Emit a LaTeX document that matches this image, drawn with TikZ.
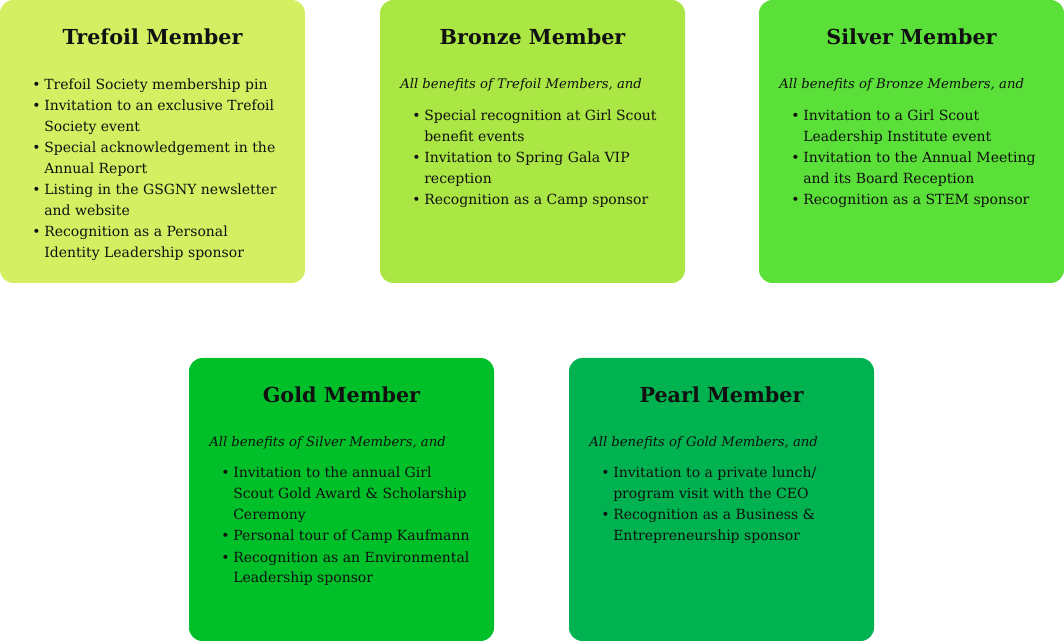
\documentclass[tikz,border=0pt]{standalone}
\usepackage{fontspec}
\setmainfont{DejaVu Serif}
\definecolor{trefoilgreen}{RGB}{212,240,98}
\definecolor{bronzegreen}{RGB}{170,230,68}
\definecolor{silvergreen}{RGB}{90,224,56}
\definecolor{goldgreen}{RGB}{0,192,42}
\definecolor{pearlgreen}{RGB}{0,178,80}
\definecolor{perkink}{RGB}{17,17,17}
\newcommand{\perkrows}[1]{\begin{tabular}[t]{@{}p{9pt}@{}l@{}}#1\end{tabular}}
\tikzset{
  tiercard/.style={rounded corners=10pt},
  tiertitle/.style={font=\fontsize{15.5}{18}\selectfont\bfseries, perkink, anchor=base, inner sep=0pt},
  tierintro/.style={font=\fontsize{9.9}{15.75}\selectfont\itshape, perkink, anchor=base west, inner sep=0pt},
  perklist/.style={font=\fontsize{10.5}{15.75}\selectfont, perkink, anchor=base west, inner sep=0pt},
}
\begin{document}
\begin{tikzpicture}[x=0.75pt, y=-0.75pt]
\useasboundingbox (0,0) rectangle (1064,641);
% -- Top row: Trefoil --
\fill[trefoilgreen, tiercard] (0,0) rectangle (305,283);
\node[tiertitle] (trefoilTitle) at (152.5,45) {Trefoil Member};
\node[perklist] (trefoilPerks) at (32,90) {\perkrows{
  \textbullet & Trefoil Society membership pin\\
  \textbullet & Invitation to an exclusive Trefoil\\
              & Society event\\
  \textbullet & Special acknowledgement in the\\
              & Annual Report\\
  \textbullet & Listing in the GSGNY newsletter\\
              & and website\\
  \textbullet & Recognition as a Personal\\
              & Identity Leadership sponsor}};
% -- Top row: Bronze --
\fill[bronzegreen, tiercard] (380,0) rectangle (685,283);
\node[tiertitle] (bronzeTitle) at (532.5,45) {Bronze Member};
\node[tierintro] (bronzeIntro) at (400,89) {All benefits of Trefoil Members, and};
\node[perklist] (bronzePerks) at (412,121) {\perkrows{
  \textbullet & Special recognition at Girl Scout\\
              & benefit events\\
  \textbullet & Invitation to Spring Gala VIP\\
              & reception\\
  \textbullet & Recognition as a Camp sponsor}};
% -- Top row: Silver --
\fill[silvergreen, tiercard] (759,0) rectangle (1064,283);
\node[tiertitle] (silverTitle) at (911.5,45) {Silver Member};
\node[tierintro] (silverIntro) at (779,89) {All benefits of Bronze Members, and};
\node[perklist] (silverPerks) at (791,121) {\perkrows{
  \textbullet & Invitation to a Girl Scout\\
              & Leadership Institute event\\
  \textbullet & Invitation to the Annual Meeting\\
              & and its Board Reception\\
  \textbullet & Recognition as a STEM sponsor}};
% -- Bottom row: Gold --
\fill[goldgreen, tiercard] (189,358) rectangle (494,641);
\node[tiertitle] (goldTitle) at (341.5,403) {Gold Member};
\node[tierintro] (goldIntro) at (209,447) {All benefits of Silver Members, and};
\node[perklist] (goldPerks) at (221,478) {\perkrows{
  \textbullet & Invitation to the annual Girl\\
              & Scout Gold Award \& Scholarship\\
              & Ceremony\\
  \textbullet & Personal tour of Camp Kaufmann\\
  \textbullet & Recognition as an Environmental\\
              & Leadership sponsor}};
% -- Bottom row: Pearl --
\fill[pearlgreen, tiercard] (569,358) rectangle (874,641);
\node[tiertitle] (pearlTitle) at (721.5,403) {Pearl Member};
\node[tierintro] (pearlIntro) at (589,447) {All benefits of Gold Members, and};
\node[perklist] (pearlPerks) at (601,478) {\perkrows{
  \textbullet & Invitation to a private lunch/\\
              & program visit with the CEO\\
  \textbullet & Recognition as a Business \&\\
              & Entrepreneurship sponsor}};
\end{tikzpicture}
\end{document}
